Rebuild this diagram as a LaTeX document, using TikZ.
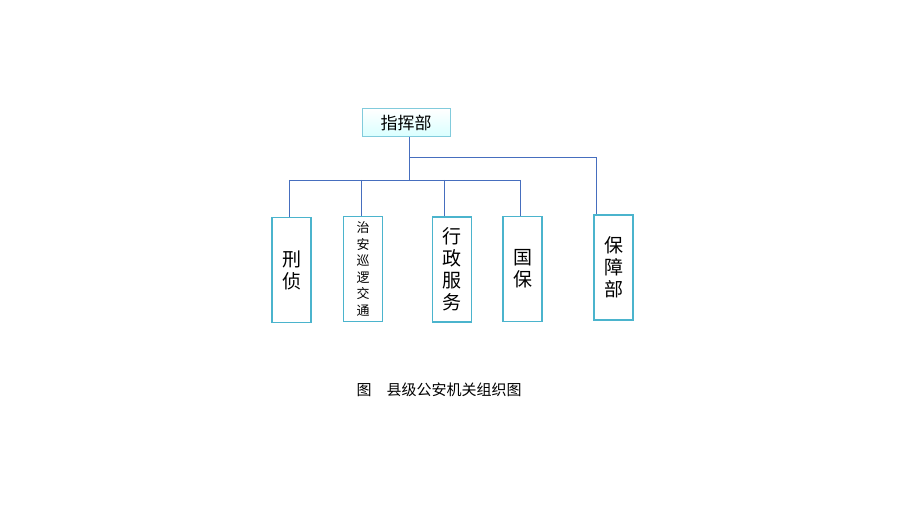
\documentclass[tikz,border=0pt]{standalone}
\usepackage{fontspec}
\setmainfont{Noto Sans CJK SC}
\definecolor{boxline}{RGB}{75,180,205}
\definecolor{linkline}{RGB}{70,110,190}
\begin{document}
\begin{tikzpicture}[x=1pt,y=-1pt,
    dept/.style={draw=boxline,line width=1.6pt,fill=white,minimum width=39pt,minimum height=105pt,inner sep=0pt,align=center,font=\fontsize{19}{22}\selectfont},
    link/.style={draw=linkline,line width=0.8pt}]
        \useasboundingbox (0,0) rectangle (920,518);
        \node[draw=boxline!70,line width=1pt,top color=white,bottom color=cyan!15,minimum width=88pt,minimum height=28pt,font=\fontsize{17}{20}\selectfont] (cmd) at (406,123) {指挥部};

        \node[dept] (xz) at (291.5,270) {刑\\侦};
        \node[dept,font=\fontsize{13}{16.5}\selectfont] (za) at (363,269) {治\\安\\巡\\逻\\交\\通};
        \node[dept] (xzf) at (452,269.5) {行\\政\\服\\务};
        \node[dept] (gb) at (522.5,269) {国\\保};
        \node[dept] (bz) at (613.5,267.5) {保\\障\\部};

        \coordinate (j1) at (409,157);
        \coordinate (j2) at (409,180);
        \coordinate (j3) at (596,157);
        \draw[link] (cmd.south -| j1) -- (j2);
        \draw[link] (j1) -- (j3) -- (j3 |- bz.north);
        \draw[link] (289,180) -- (520,180);
        \foreach \d/\xx in {xz/289,za/361,xzf/444,gb/520}
        \draw[link] (\xx,180) -- (\d.north -| \xx,0);

        \node[font=\fontsize{15}{17}\selectfont] (cap) at (439,390) {图\quad 县级公安机关组织图};
    \end{tikzpicture}
\end{document}
